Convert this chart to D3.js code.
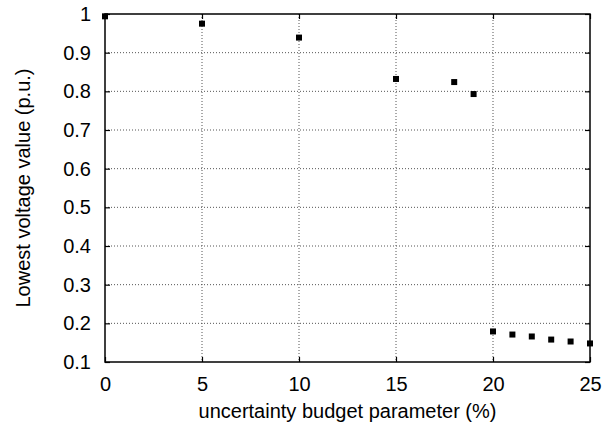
<!DOCTYPE html>
<html>
<head>
<meta charset="utf-8">
<script src="https://cdnjs.cloudflare.com/ajax/libs/d3/7.8.5/d3.min.js"></script>
<style>
  body { margin: 0; background: #fff; }
  text { font-family: "Liberation Sans", Arial, sans-serif; fill: #000; }
</style>
</head>
<body>
<div id="chart"></div>
<script>
const budget = [0, 5, 10, 15, 18, 19, 20, 21, 22, 23, 24, 25]
const lowestVoltage = [0.994, 0.975, 0.939, 0.832, 0.824, 0.793, 0.179, 0.171, 0.166, 0.158, 0.153, 0.148]
const xTicks = [0, 5, 10, 15, 20, 25]
const yTicks = [0.1, 0.2, 0.3, 0.4, 0.5, 0.6, 0.7, 0.8, 0.9, 1]

const W = 616, H = 427
const margin = { top: 14, right: 26, bottom: 65, left: 105 }
const width = W - margin.left - margin.right,
      height = H - margin.top - margin.bottom

const svg = d3.select('#chart').append('svg')
  .attr('width', W)
  .attr('height', H)

const g = svg.append('g')
  .attr('transform', 'translate(' + margin.left + ', ' + margin.top + ')')

const x = d3.scaleLinear().domain([0, 25]).range([0, width])
const y = d3.scaleLinear().domain([0.1, 1]).range([height, 0])

// dotted grid
g.append('g').selectAll('line')
  .data(xTicks.slice(1, -1)).enter()
  .append('line')
  .attr('x1', d => x(d)).attr('x2', d => x(d))
  .attr('y1', 0).attr('y2', height)
  .attr('stroke', '#555').attr('stroke-width', 1)
  .attr('stroke-dasharray', '1,2')
g.append('g').selectAll('line')
  .data(yTicks.slice(1, -1)).enter()
  .append('line')
  .attr('y1', d => y(d)).attr('y2', d => y(d))
  .attr('x1', 0).attr('x2', width)
  .attr('stroke', '#555').attr('stroke-width', 1)
  .attr('stroke-dasharray', '1,2')

// axes, ticks pointing inward
const tickFont = 20
g.append('g')
  .attr('transform', 'translate(0, ' + height + ')')
  .call(d3.axisBottom(x).tickValues(xTicks).tickSize(-5).tickPadding(15).tickFormat(d3.format('d')))
g.append('g')
  .call(d3.axisLeft(y).tickValues(yTicks).tickSize(-5).tickPadding(14).tickFormat(d => d === 1 ? '1' : d3.format('.1f')(d)))
g.append('g')
  .call(d3.axisTop(x).tickValues(xTicks).tickSize(-5).tickFormat(''))
g.append('g')
  .attr('transform', 'translate(' + width + ', 0)')
  .call(d3.axisRight(y).tickValues(yTicks).tickSize(-5).tickFormat(''))

g.selectAll('.domain').remove()
g.selectAll('.tick line').attr('stroke', '#000').attr('stroke-width', 1.2)
g.selectAll('.tick text')
  .style('font-size', tickFont + 'px')
  .style('font-family', '"Liberation Sans", Arial, sans-serif')

g.append('rect')
  .attr('width', width).attr('height', height)
  .attr('fill', 'none').attr('stroke', '#000').attr('stroke-width', 1.5)

// points
g.append('g').selectAll('rect')
  .data(budget).enter()
  .append('rect')
  .attr('x', (d, i) => x(d) - 3)
  .attr('y', (d, i) => y(lowestVoltage[i]) - 3)
  .attr('width', 6).attr('height', 6)
  .attr('fill', '#000')

// labels
svg.append('text')
  .attr('x', margin.left + width / 2)
  .attr('y', H - 9)
  .attr('text-anchor', 'middle')
  .style('font-size', '20px')
  .text('uncertainty budget parameter (%)')

svg.append('text')
  .attr('transform', 'translate(30, ' + (margin.top + height / 2) + ') rotate(-90)')
  .attr('text-anchor', 'middle')
  .style('font-size', '20px')
  .text('Lowest voltage value (p.u.)')
</script>
</body>
</html>
